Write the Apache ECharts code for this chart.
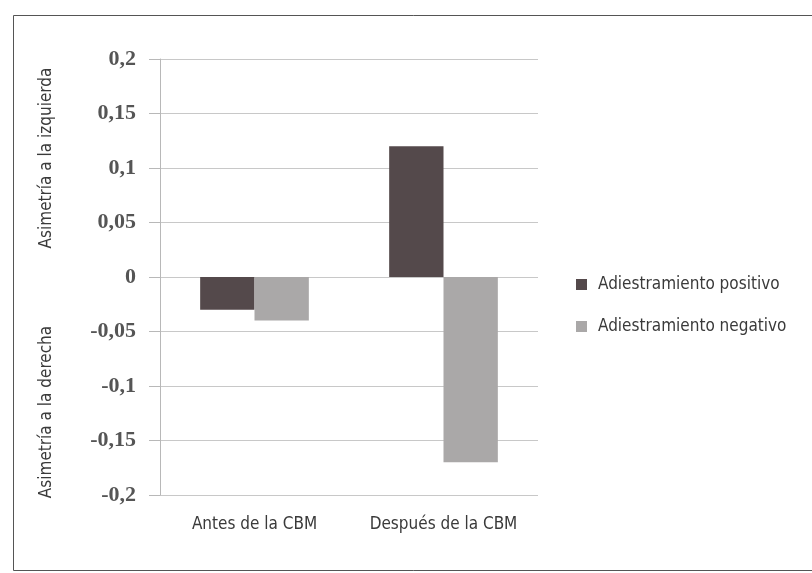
<!DOCTYPE html>
<html><head><meta charset="utf-8">
<script src="https://cdn.jsdelivr.net/npm/echarts@6/dist/echarts.min.js"></script>
<style>html,body{margin:0;padding:0;background:#fff}#c{width:812px;height:573px}</style>
</head><body><div id="c"></div>
<script>
const categories = ['Antes de la CBM', 'Después de la CBM'];
const seriesNames = ['Adiestramiento positivo', 'Adiestramiento negativo'];
const positivo = [-0.03, 0.12];
const negativo = [-0.04, -0.17];
const yTicks = [-0.2, -0.15, -0.1, -0.05, 0, 0.05, 0.1, 0.15, 0.2];
const yNameTop = 'Asimetría a la izquierda';
const yNameBottom = 'Asimetría a la derecha';

const narrow = '"Liberation Sans Narrow", "DejaVu Sans Condensed", "Roboto Condensed", sans-serif';
const chart = echarts.init(document.getElementById('c'), null, {renderer: 'canvas'});
chart.setOption({
  animation: false,
  backgroundColor: '#fff',
  grid: {left: 160, right: 274, top: 59, bottom: 78},
  legend: {
    orient: 'vertical', left: 571, top: 271, itemGap: 25,
    itemWidth: 11, itemHeight: 11, icon: 'rect',
    textStyle: {fontFamily: narrow, fontSize: 17, color: '#3a3a3a', padding: [0,0,0,6]},
    data: seriesNames
  },
  xAxis: {
    type: 'category', data: categories, position: 'bottom',
    axisLine: {show: false}, axisTick: {show: false},
    axisLabel: {interval: 0, hideOverlap: false, fontFamily: narrow, fontSize: 17, color: '#3a3a3a', margin: 21}
  },
  yAxis: {
    type: 'value', min: -0.2, max: 0.2, interval: 0.05,
    axisLine: {show: true, lineStyle: {color: '#b8b8b8'}},
    axisTick: {show: true, length: 11, lineStyle: {color: '#b8b8b8'}},
    splitLine: {show: true, lineStyle: {color: '#c8c8c8'}},
    axisLabel: {
      fontFamily: '"Liberation Serif", "DejaVu Serif", serif', fontWeight: 'bold',
      fontSize: 22, color: '#555', margin: 24,
      formatter: v => {
        const t = yTicks.find(x => Math.abs(x - v) < 1e-9);
        return (t === undefined ? v : t).toString().replace('.', ',');
      }
    }
  },
  series: [
    {name: seriesNames[0], type: 'bar', data: positivo, barGap: '0%', barCategoryGap: '42.5%',
     itemStyle: {color: '#54494b'}},
    {name: seriesNames[1], type: 'bar', data: negativo, barGap: '0%', barCategoryGap: '42.5%',
     itemStyle: {color: '#aaa8a8'}}
  ],
  graphic: [
    {type: 'rect', shape: {x: 13.5, y: 15.5, width: 820, height: 555}, style: {fill: 'none', stroke: '#555', lineWidth: 1}},
    {type: 'text', x: 47, y: 158, rotation: Math.PI/2, style: {text: yNameTop, fontFamily: narrow, fontSize: 17, fill: '#3a3a3a', align: 'center', verticalAlign: 'middle'}},
    {type: 'text', x: 47, y: 412, rotation: Math.PI/2, style: {text: yNameBottom, fontFamily: narrow, fontSize: 17, fill: '#3a3a3a', align: 'center', verticalAlign: 'middle'}}
  ]
});
</script></body></html>
